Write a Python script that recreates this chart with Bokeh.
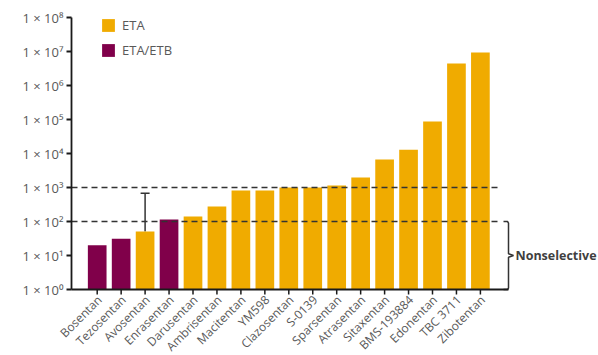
import math
from bokeh.plotting import figure
from bokeh.models import (ColumnDataSource, Range1d, Whisker, TeeHead,
                          Legend, LegendItem, CDSView, BooleanFilter)
from bokeh.core.properties import value
from bokeh.embed import file_html
from bokeh.resources import INLINE

# ---- data ----
drugs = ["Bosentan", "Tezosentan", "Avosentan", "Enrasentan", "Darusentan",
         "Ambrisentan", "Macitentan", "YM598", "Clazosentan", "S-0139",
         "Sparsentan", "Atrasentan", "Sitaxentan", "BMS-193884", "Edonentan",
         "TBC 3711", "Zibotentan"]
selectivity = [20, 31, 51, 115, 140, 275, 820, 820, 1000, 1000,
               1150, 1960, 6650, 13000, 87000, 4.4e6, 9.3e6]
receptor = ["ETA/ETB", "ETA/ETB", "ETA", "ETA/ETB", "ETA", "ETA", "ETA", "ETA",
            "ETA", "ETA", "ETA", "ETA", "ETA", "ETA", "ETA", "ETA", "ETA"]
err_drug = ["Avosentan"]
err_upper = [680]
thresholds = [100, 1000]
bracket_label = "Nonselective"
y_ticks = [1, 10, 100, 1e3, 1e4, 1e5, 1e6, 1e7, 1e8]
sup = {"0": "\u2070", "1": "\u00b9", "2": "\u00b2", "3": "\u00b3", "4": "\u2074",
       "5": "\u2075", "6": "\u2076", "7": "\u2077", "8": "\u2078"}
y_tick_labels = ["1 \u00d7 10" + sup[str(int(round(math.log10(t))))] for t in y_ticks]

ORANGE = "#F0AB00"
PURPLE = "#80004A"
GREY = "#595959"
AX = "#1a1a1a"
FONT = "Open Sans"

# ---- layout (pixels) ----
W, H = 598, 355
AXIS_X_PX, AXIS_TOP_PX, AXIS_BOTTOM_PX = 71, 17, 289
PX_PER_DEC = (AXIS_BOTTOM_PX - AXIS_TOP_PX) / 8.0
PX_PER_CAT = 23.95
FIRST_X_PX = 96.7


def dx(px):
    return (px - FIRST_X_PX) / PX_PER_CAT


def dy(py):
    return 10 ** ((AXIS_BOTTOM_PX - py) / PX_PER_DEC)


xs = list(range(len(drugs)))
colors = [ORANGE if r == "ETA" else PURPLE for r in receptor]
src = ColumnDataSource(dict(x=xs, top=selectivity, color=colors, grp=receptor))

p = figure(width=W, height=H, y_axis_type="log",
           x_range=Range1d(dx(0), dx(W)), y_range=Range1d(dy(H), dy(0)),
           output_backend="svg", toolbar_location=None,
           x_axis_location=None, y_axis_location=None,
           min_border=0)
p.outline_line_color = None
p.grid.grid_line_color = None
p.background_fill_color = "white"

view_a = CDSView(filter=BooleanFilter([r == "ETA" for r in receptor]))
view_b = CDSView(filter=BooleanFilter([r != "ETA" for r in receptor]))
ra = p.vbar(x="x", top="top", bottom=1, width=0.78, color="color", line_color=None,
            source=src, view=view_a)
rb = p.vbar(x="x", top="top", bottom=1, width=0.78, color="color", line_color=None,
            source=src, view=view_b)

xa = dx(AXIS_X_PX)
xb = dx(508)

# threshold dashed lines (to just before the bracket)
for t in thresholds:
    p.line([xa, dx(501)], [t, t], line_color="#333333", line_width=1.5,
           line_dash="6 4")

# error bar
ei = drugs.index(err_drug[0])
esrc = ColumnDataSource(dict(x=[ei], lo=[selectivity[ei]], hi=err_upper))
p.add_layout(Whisker(source=esrc, base="x", lower="lo", upper="hi",
                     line_color="#333333", line_width=1.5,
                     upper_head=TeeHead(size=9, line_color="#333333", line_width=1.5),
                     lower_head=None))

# bracket
lo, hi = 1, thresholds[0]
mid = math.sqrt(lo * hi)
bx = [dx(503), dx(507), xb, xb, dx(513), xb, xb, dx(507), dx(503)]
by = [hi, hi, hi * 0.9, mid * 1.12, mid, mid / 1.12, lo * 1.1, lo, lo]
p.line(bx, by, line_color="#333333", line_width=1.5)
p.text(x=[dx(515)], y=[mid], text=[bracket_label], text_font=value(FONT),
       text_font_size="12.5px", text_font_style="bold", text_color="#3F3F3F",
       text_baseline="middle", text_align="left")

# axis lines
p.line([xa, xb], [1, 1], line_color=AX, line_width=1.8)
p.line([xa, xa], [1, y_ticks[-1]], line_color=AX, line_width=1.8)

# y ticks + labels
p.segment(x0=[dx(AXIS_X_PX - 5)] * len(y_ticks), y0=y_ticks,
          x1=[xa] * len(y_ticks), y1=y_ticks, line_color=AX, line_width=1.8)
p.text(x=[dx(AXIS_X_PX - 8)] * len(y_ticks), y=y_ticks, text=y_tick_labels,
       text_align="right", text_baseline="middle", text_font=value(FONT),
       text_font_size="13px", text_color=GREY)

# x ticks + rotated names
p.segment(x0=xs, y0=[1] * len(xs), x1=xs, y1=[dy(AXIS_BOTTOM_PX + 5)] * len(xs),
          line_color=AX, line_width=1.5)
p.text(x=[x + 0.1 for x in xs], y=[dy(AXIS_BOTTOM_PX + 8)] * len(xs), text=drugs,
       angle=math.pi / 4, text_align="right", text_baseline="middle",
       text_font=value(FONT), text_font_size="12px", text_color=GREY)

legend = Legend(items=[LegendItem(label="ETA", renderers=[ra]),
                       LegendItem(label="ETA/ETB", renderers=[rb])],
                location=(100, H - 59), orientation="vertical",
                glyph_width=16, glyph_height=16, spacing=7, padding=0, margin=0,
                label_standoff=6, border_line_color=None, background_fill_alpha=0,
                label_text_font=FONT, label_text_font_size="13px",
                label_text_color=GREY)
p.add_layout(legend)

open("out.html", "w").write(file_html(p, INLINE))
